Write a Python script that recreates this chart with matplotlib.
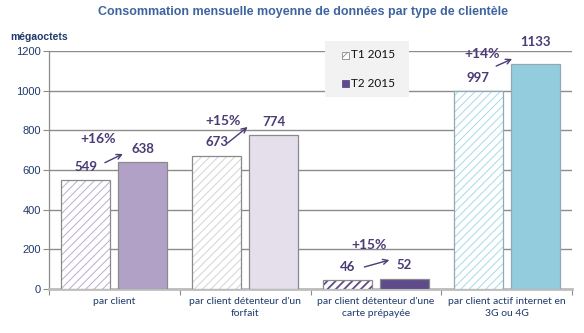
import matplotlib
matplotlib.use("Agg")
import matplotlib.pyplot as plt
from matplotlib.patches import Rectangle
import numpy as np

# Data
categories = ["par client", "par client détenteur d'un\nforfait",
              "par client détenteur d'une\ncarte prépayée",
              "par client actif internet en\n3G ou 4G"]
t1_2015 = [549, 673, 46, 997]
t2_2015 = [638, 774, 52, 1133]
growth_labels = ["+16%", "+15%", "+15%", "+14%"]
series_names = ["T1 2015", "T2 2015"]
yticks = [0, 200, 400, 600, 800, 1000, 1200]

# Styles per category
t1_hatch_colors = ["#B9ADCC", "#D3D3D3", "#5E4A8A", "#A9D9E8"]
t1_hatch_lw = [0.7, 0.7, 1.3, 0.7]
t2_fill_colors = ["#B1A1C7", "#E5DFEC", "#5F4B8B", "#93CDDD"]
edge_colors = ["#8A8A8A", "#8A8A8A", "#8A8A8A", "#8FA9B6"]
text_color = "#4B3B76"
axis_text = "#1F3A6B"
font_lbl = ["Lato", "DejaVu Sans"]
font_arial = ["Liberation Sans", "DejaVu Sans"]

W, H = 584, 333
fig = plt.figure(figsize=(W / 100, H / 100), dpi=100)
ax = fig.add_axes([49 / W, 1 - 289 / H, 523 / W, 238 / H])

x = np.arange(len(categories))
w = 0.374
off = 0.2176

for i in range(len(categories)):
    with plt.rc_context({"hatch.linewidth": t1_hatch_lw[i]}):
        ax.bar(x[i] - off, t1_2015[i], w, color="white", hatch="////",
               edgecolor=t1_hatch_colors[i], linewidth=0, zorder=3)
    ax.bar(x[i] - off, t1_2015[i], w, color="none",
           edgecolor=edge_colors[i], linewidth=0.9, zorder=4)
    ax.bar(x[i] + off, t2_2015[i], w, color=t2_fill_colors[i],
           edgecolor=edge_colors[i], linewidth=0.9, zorder=3)

# Value labels above bars
for i in range(len(categories)):
    ax.annotate(str(t1_2015[i]), (x[i] - off, t1_2015[i]), xytext=(0, 9.5),
                textcoords="offset points", ha="center", va="center",
                fontsize=9.5, fontweight="bold", color=text_color,
                family=font_lbl, zorder=6)
    dy = 16 if i == 3 else 9.5
    ax.annotate(str(t2_2015[i]), (x[i] + off, t2_2015[i]), xytext=(0, dy),
                textcoords="offset points", ha="center", va="center",
                fontsize=9.5, fontweight="bold", color=text_color,
                family=font_lbl, zorder=6)

# Growth labels and arrows
growth_pos = [(-0.126, 756), (0.828, 847), (1.950, 222), (2.813, 1185)]
arrow_pos = [((-0.0725, 637), (0.065, 681)),
             ((0.866, 736), (1.019, 817)),
             ((1.912, 111), (2.103, 146)),
             ((2.920, 1124), (3.042, 1160))]
for i in range(len(categories)):
    gx, gy = growth_pos[i]
    ax.text(gx, gy, growth_labels[i], ha="center", va="center", fontsize=10,
            fontweight="bold", color=text_color, family=font_lbl, zorder=6)
    (x0, y0), (x1, y1) = arrow_pos[i]
    ax.annotate("", xy=(x1, y1), xytext=(x0, y0),
                arrowprops=dict(arrowstyle="->", color=text_color, lw=1.0,
                                mutation_scale=9, shrinkA=0, shrinkB=0),
                zorder=6)

# Axes
ax.set_xlim(-0.5, len(categories) - 0.5)
ax.set_ylim(0, 1200)
ax.set_yticks(yticks)
ax.set_yticklabels([str(v) for v in yticks], fontsize=8, color=axis_text,
                   family=font_arial)
ax.yaxis.grid(True, color="#8C8C8C", linewidth=1.0, zorder=0)
ax.set_axisbelow(True)
ax.tick_params(axis="y", length=4, width=0.8, color="#8C8C8C", pad=2)

ax.set_xticks(np.arange(-0.5, len(categories), 1.0))
ax.set_xticklabels([])
ax.set_xticks(x, minor=True)
ax.set_xticklabels(categories, minor=True, fontsize=7.5, color=axis_text,
                   family=font_lbl, linespacing=1.4)
ax.tick_params(axis="x", which="major", length=4, width=0.8, color="#8C8C8C")
ax.tick_params(axis="x", which="minor", length=0, pad=6)

for s in ["top", "right"]:
    ax.spines[s].set_visible(False)
ax.spines["left"].set_color("#8C8C8C")
ax.spines["left"].set_linewidth(0.9)
ax.spines["bottom"].set_color("#BDBDBD")
ax.spines["bottom"].set_linewidth(2.0)

# Title and unit
fig.text(303 / W, 1 - 12 / H, "Consommation mensuelle moyenne de données par type de clientèle",
         ha="center", va="center", fontsize=9, fontweight="bold", color="#3E64A0",
         family=font_arial)
fig.text(10 / W, 1 - 37 / H, "mégaoctets", ha="left", va="center",
         fontsize=7.5, fontweight="bold", color=axis_text, family=font_arial)

# Legend box with series keys
fig.add_artist(Rectangle((325 / W, 1 - 97 / H), 84 / W, 56 / H,
                         transform=fig.transFigure, facecolor="#F2F2F2",
                         edgecolor="none", zorder=8))
key_y = [55, 83]
with plt.rc_context({"hatch.linewidth": 0.6}):
    fig.add_artist(Rectangle((342 / W, 1 - (key_y[0] + 3.5) / H), 7 / W, 7 / H,
                             transform=fig.transFigure, facecolor="white",
                             edgecolor="#8A8A8A", hatch="////", linewidth=0.6,
                             zorder=9))
fig.add_artist(Rectangle((342 / W, 1 - (key_y[1] + 3.5) / H), 7 / W, 7 / H,
                         transform=fig.transFigure, facecolor="#5F4B8B",
                         edgecolor="#5F4B8B", linewidth=0.6, zorder=9))
for name, ky in zip(series_names, key_y):
    fig.text(351 / W, 1 - ky / H, name, ha="left", va="center", fontsize=8.5,
             color="#111111", family=font_lbl, zorder=10)

fig.savefig("out.png", dpi=100)
